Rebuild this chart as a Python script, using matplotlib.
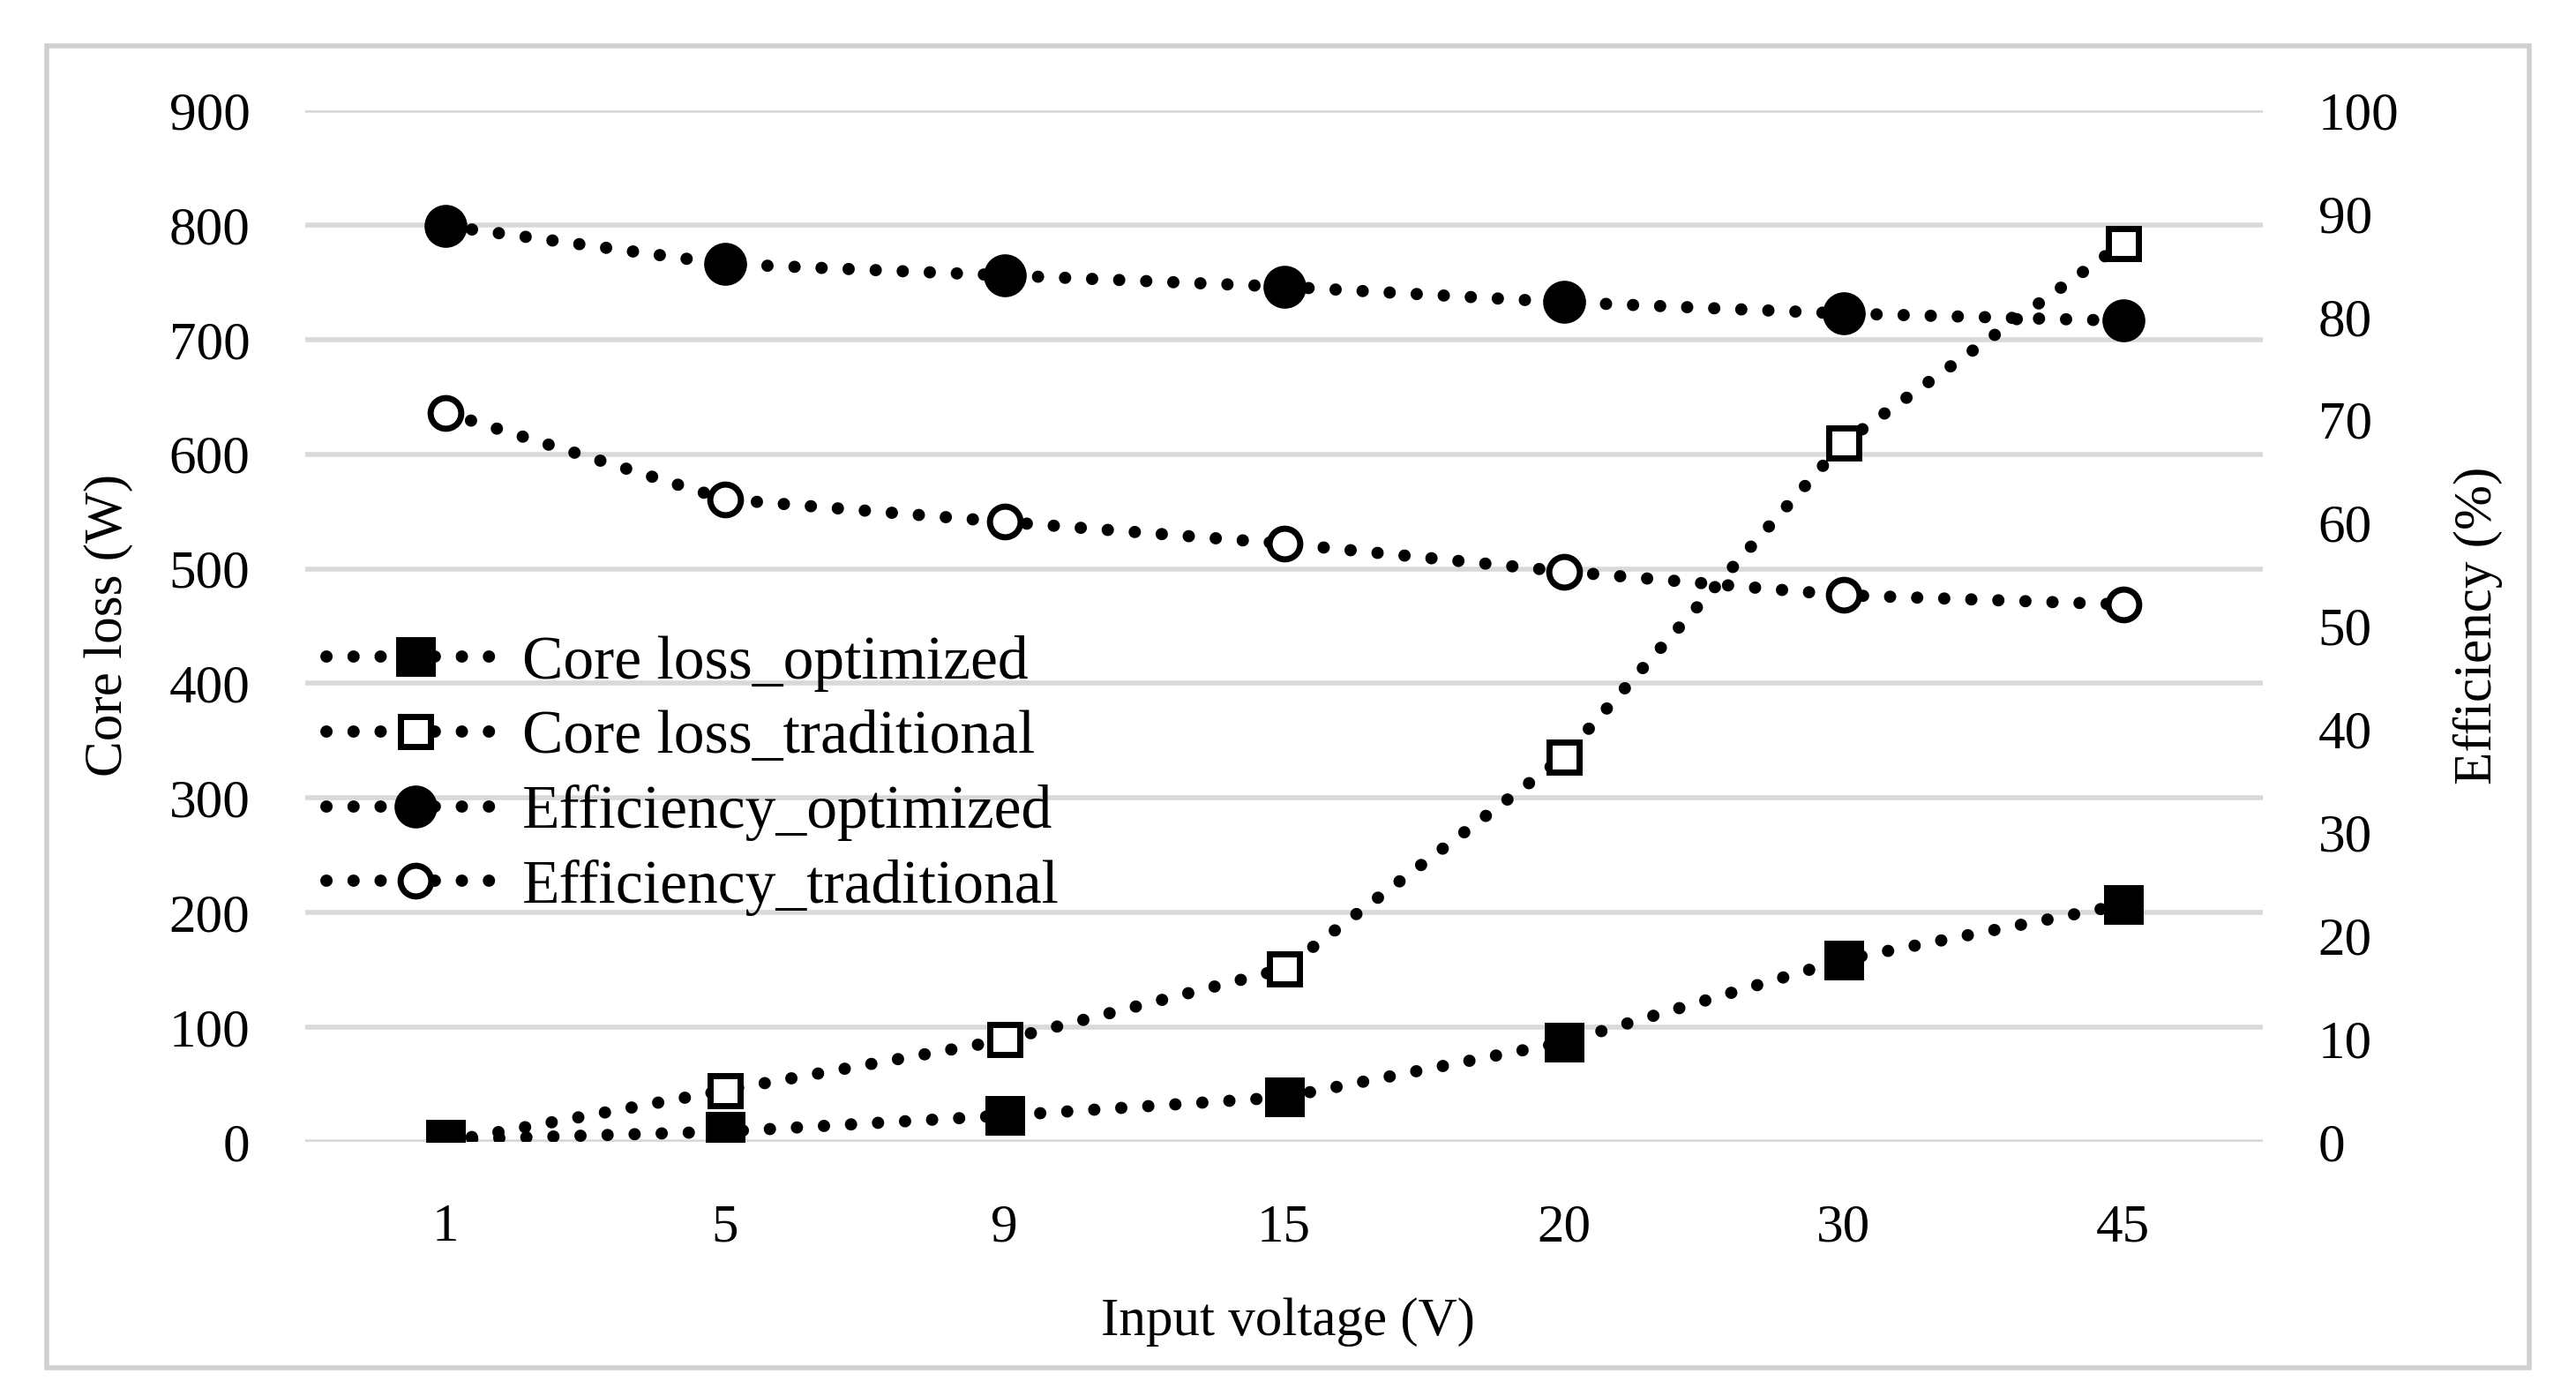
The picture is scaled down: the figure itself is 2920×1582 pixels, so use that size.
import numpy as np
import matplotlib.pyplot as plt
from matplotlib.patches import Rectangle

plt.rcParams['font.family'] = ['Liberation Serif', 'DejaVu Serif']

voltages = ['1', '5', '9', '15', '20', '30', '45']
core_loss_opt = [2, 9, 23, 39, 87, 159, 207]
core_loss_trad = [0, 45, 89, 151, 336, 610, 784]
eff_opt = [88.8, 85.1, 84.0, 82.9, 81.4, 80.3, 79.6]
eff_trad = [70.7, 62.3, 60.1, 58.0, 55.3, 53.0, 52.1]

x = np.arange(len(voltages))

fig = plt.figure(figsize=(29.2, 15.82), dpi=100)
ax = fig.add_axes([0.1185, 0.182, 0.760, 0.739])
ax2 = ax.twinx()

dot = (0, (0.01, 2.2))
lw = 10
common = dict(color='black', linestyle=dot, linewidth=lw, dash_capstyle='round',
              markeredgecolor='black', markeredgewidth=5)

l2, = ax.plot(x, core_loss_trad, marker='s', markersize=25, markerfacecolor='white',
              label='Core loss_traditional', zorder=3, **common)
l1, = ax.plot(x, core_loss_opt, marker='s', markersize=27, markerfacecolor='black',
              label='Core loss_optimized', zorder=4, **common)
l3, = ax2.plot(x, eff_opt, marker='o', markersize=30, markerfacecolor='black',
               label='Efficiency_optimized', zorder=3, **common)
l4, = ax2.plot(x, eff_trad, marker='o', markersize=25, markerfacecolor='white',
               label='Efficiency_traditional', zorder=3, **common)

ax.set_xlim(-0.5, 6.5)
ax.set_ylim(0, 900)
ax.set_yticks(np.arange(0, 901, 100))
ax2.set_ylim(0, 100)
ax2.set_yticks(np.arange(0, 101, 10))
ax.set_xticks(x)
ax.set_xticklabels(voltages)

ax.grid(axis='y', color='#d9d9d9', linewidth=4)
ax.set_axisbelow(True)
for a in (ax, ax2):
    for s in a.spines.values():
        s.set_visible(False)
    a.tick_params(length=0, labelsize=44)
ax.tick_params(axis='y', pad=45)
ax2.tick_params(axis='y', pad=45)
ax.tick_params(axis='x', pad=50)
ax.patch.set_visible(False)

fig.text(0.042, 0.552, 'Core loss (W)', rotation=90, ha='center', va='center', fontsize=44)
fig.text(0.962, 0.552, 'Efficiency (%)', rotation=90, ha='center', va='center', fontsize=44)
fig.text(0.5, 0.053, 'Input voltage (V)', ha='center', va='center', fontsize=44)

leg = ax.legend(handles=[l1, l2, l3, l4], loc='upper left', bbox_to_anchor=(-0.008, 0.527),
                frameon=False, fontsize=50, handlelength=2.9, handletextpad=0.3,
                labelspacing=0.3, borderaxespad=0.2)
leg.set_zorder(5)

fig.patches.append(Rectangle((0.018, 0.02), 0.964, 0.947, transform=fig.transFigure,
                             fill=False, edgecolor='#d0d0d0', linewidth=4))

fig.savefig('out.png', dpi=100)
